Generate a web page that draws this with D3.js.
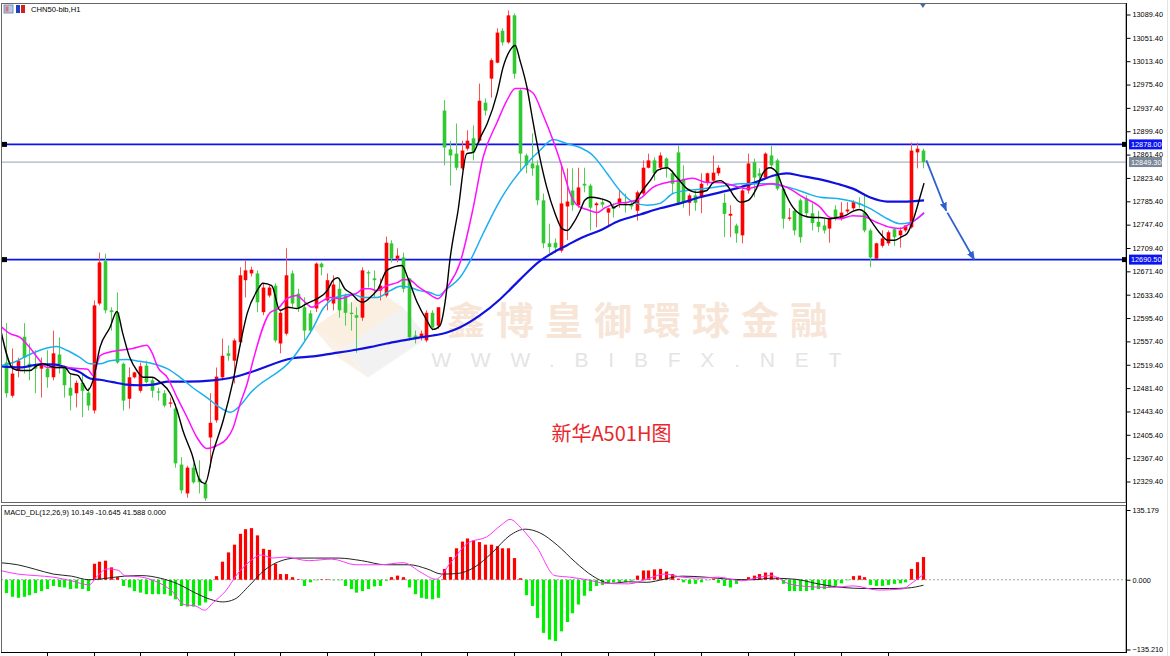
<!DOCTYPE html>
<html><head><meta charset="utf-8">
<script src="https://cdn.jsdelivr.net/npm/d3@7/dist/d3.min.js"></script>
<style>body{margin:0;background:#fff;overflow:hidden}svg{display:block}</style>
</head><body>
<svg id="c" width="1170" height="656"></svg>
<script>
// ---------- DATA ----------
const symbolLabel = "CHN50-bib,H1";
const macdLabel = "MACD_DL(12,26,9) 10.149 -10.645 41.588 0.000";
const opens = [
12523,12469,12510,12565,12521,12520,12513,12513,12499,12536,
12515,12482,12473,12490,12474,12445,12619,12688,12608,12605,
12521,12464,12499,12477,12518,12494,12476,12473,12456,12448,
12357,12310,12352,12334,12326,12401,12429,12499,12538,12526,
12556,12657,12668,12668,12605,12632,12648,12554,12570,12668,
12635,12613,12603,12611,12684,12624,12619,12643,12632,12604,
12600,12596,12670,12660,12640,12632,12717,12692,12694,12660,
12567,12564,12559,12604,12583,12933,12870,12863,12839,12871,
12888,12884,12946,12985,13011,13063,13044,13088,12966,12860,
12847,12844,12787,12717,12718,12705,12777,12803,12779,12814,
12811,12779,12784,12767,12777,12782,12782,12780,12770,12798,
12840,12852,12840,12855,12831,12865,12822,12783,12795,12792,
12816,12819,12831,12783,12762,12746,12730,12803,12849,12831,
12824,12860,12852,12806,12757,12770,12787,12790,12766,12752,
12746,12741,12772,12757,12769,12774,12782,12767,12738,12692,
12713,12717,12740,12730,12738,12743,12865,12868];
const highs = [
12587,12546,12531,12587,12554,12543,12531,12543,12575,12564,
12518,12505,12494,12505,12482,12624,12702,12700,12613,12637,
12523,12515,12508,12523,12526,12499,12482,12478,12466,12456,
12369,12355,12359,12364,12331,12473,12515,12562,12551,12562,
12678,12689,12679,12673,12652,12648,12652,12608,12709,12673,
12643,12629,12608,12686,12686,12668,12665,12661,12635,12621,
12613,12678,12673,12673,12660,12728,12722,12709,12702,12661,
12575,12575,12608,12608,12613,12950,12884,12912,12884,12901,
12909,12977,12953,13018,13067,13067,13096,13091,12969,12863,
12896,12852,12798,12749,12725,12847,12839,12839,12840,12840,
12814,12784,12790,12775,12782,12803,12798,12785,12803,12852,
12863,12857,12865,12857,12836,12876,12844,12798,12803,12831,
12832,12860,12844,12798,12779,12749,12806,12863,12855,12839,
12865,12876,12855,12808,12774,12774,12790,12795,12782,12770,
12757,12757,12779,12784,12784,12787,12792,12795,12741,12718,
12738,12738,12741,12743,12746,12881,12881,12871];
const lows = [
12466,12466,12499,12505,12494,12473,12466,12482,12494,12505,
12466,12445,12450,12434,12445,12440,12616,12603,12575,12521,
12445,12448,12497,12474,12489,12466,12461,12450,12450,12352,
12310,12303,12326,12310,12298,12352,12425,12494,12526,12489,
12550,12629,12663,12605,12600,12629,12556,12538,12567,12613,
12605,12559,12570,12605,12665,12608,12608,12596,12583,12575,
12539,12591,12645,12629,12624,12629,12686,12686,12637,12559,
12554,12559,12556,12575,12578,12844,12811,12836,12836,12868,
12852,12881,12925,12954,13010,13039,13042,12985,12836,12831,
12827,12779,12709,12701,12701,12702,12722,12770,12775,12800,
12738,12743,12775,12746,12759,12775,12767,12772,12754,12795,
12839,12819,12836,12824,12798,12779,12775,12762,12770,12766,
12811,12814,12827,12727,12727,12718,12717,12798,12792,12819,
12822,12840,12803,12741,12754,12730,12718,12759,12738,12735,
12733,12718,12754,12754,12766,12770,12775,12735,12678,12692,
12710,12713,12713,12710,12735,12741,12839,12839];
const closes = [
12473,12505,12526,12531,12515,12513,12520,12499,12538,12520,
12486,12469,12490,12477,12453,12616,12686,12608,12605,12523,
12461,12499,12507,12517,12491,12477,12474,12453,12458,12359,
12315,12352,12328,12328,12302,12425,12500,12534,12534,12559,
12665,12673,12674,12621,12645,12645,12559,12604,12665,12619,
12613,12575,12575,12684,12678,12657,12650,12608,12604,12602,
12596,12673,12668,12657,12648,12718,12692,12697,12643,12564,
12562,12570,12604,12580,12613,12873,12860,12840,12868,12884,
12865,12949,12933,13015,13060,13044,13088,12993,12863,12844,
12839,12787,12717,12711,12710,12782,12785,12779,12808,12811,
12775,12782,12780,12774,12773,12790,12779,12777,12800,12840,
12852,12831,12860,12839,12814,12782,12783,12795,12783,12814,
12831,12832,12840,12765,12765,12733,12803,12847,12824,12827,
12863,12844,12806,12757,12759,12738,12727,12766,12750,12744,
12738,12757,12757,12767,12772,12784,12780,12738,12694,12717,
12725,12735,12727,12738,12746,12868,12871,12849.3];

// moving averages: [bar index, value]
const ma5 = [[-1,12580],[1.2,12513],[2.4,12510],[4.1,12510],[5.3,12518],[6.3,12521],[8.4,12515],[10.1,12515],[11,12505],[12.3,12502],[13.2,12489],[14,12478],[14.9,12494],[16.1,12548],[17.8,12580],[19,12606],[20,12570],[21.2,12531],[22.4,12510],[23.5,12499],[25,12499],[26.4,12491],[28.1,12473],[29.3,12445],[30.3,12412],[31.8,12375],[33.2,12331],[34.1,12326],[35.4,12375],[37.2,12429],[38.9,12494],[40.6,12575],[41.3,12603],[43,12640],[44,12652],[45.5,12648],[46.9,12608],[48.3,12613],[49.8,12611],[51.5,12619],[53.3,12627],[55,12640],[56,12657],[56.8,12661],[58,12643],[59.2,12635],[60.3,12624],[61.1,12621],[62.7,12632],[63.7,12643],[65.2,12673],[66.6,12679],[67.8,12681],[68.8,12661],[70.4,12621],[72.1,12591],[73.1,12577],[74.3,12583],[75.3,12629],[76,12689],[77.4,12770],[78.9,12863],[80,12865],[81.2,12889],[82.4,12912],[84.1,12961],[85.1,13003],[86.3,13031],[87.2,13039],[88,13015],[89.2,12971],[90.2,12917],[91.4,12857],[92.6,12808],[94,12766],[95.2,12741],[96.1,12738],[97.1,12749],[98.3,12770],[99.1,12787],[100,12792],[101.7,12790],[103.4,12784],[104,12775],[105.1,12780],[106.8,12780],[107.7,12784],[108.6,12798],[110.3,12819],[111.6,12836],[113.2,12840],[114.9,12824],[116.6,12806],[118.3,12800],[120,12803],[121.1,12816],[122.3,12819],[123.5,12811],[124.8,12792],[125.7,12784],[127.1,12787],[128.6,12808],[129.6,12831],[130.8,12840],[132,12832],[133,12808],[134.8,12775],[136.5,12762],[138.2,12759],[139.4,12759],[141.1,12757],[142.3,12759],[143.7,12762],[145,12769],[146.1,12772],[147.1,12767],[148.3,12751],[149.7,12733],[151,12722],[152.2,12722],[153.4,12728],[154.3,12733],[155.3,12754],[156.5,12792],[157.2,12815]];
const ma10 = [[-1,12583],[0.7,12570],[2.4,12564],[4.1,12547],[5.8,12526],[7,12515],[8.4,12515],[10.1,12515],[12.7,12513],[14,12512],[14.9,12502],[16.1,12534],[17.3,12539],[19.5,12543],[21.7,12546],[24.1,12551],[25,12539],[26,12515],[27.6,12499],[29.3,12466],[31,12434],[32.7,12401],[34.4,12383],[36.1,12388],[37.8,12399],[38.9,12417],[40.1,12456],[41.3,12489],[42.3,12526],[45.2,12604],[46.6,12611],[48.1,12627],[49.8,12632],[50.9,12624],[52.4,12613],[53.8,12621],[55.5,12629],[57.2,12627],[58.9,12632],[60.3,12637],[61.1,12643],[62.3,12643],[63.5,12640],[65.2,12648],[67,12653],[68,12658],[69.2,12657],[70.5,12647],[72.1,12637],[74,12627],[75.5,12645],[77.7,12684],[80,12775],[81.7,12857],[84.1,12914],[85.8,12950],[87.2,12969],[88.5,12969],[90.2,12962],[92,12925],[93.7,12884],[95.4,12836],[96.6,12798],[97.8,12779],[99.5,12772],[101.2,12767],[102.6,12775],[104.6,12782],[106.5,12784],[108.6,12790],[110.8,12808],[113.2,12816],[115.4,12819],[117.6,12823],[120,12816],[122.3,12816],[124.5,12811],[126.9,12806],[129.1,12811],[131.3,12814],[133.7,12808],[136.5,12792],[139.4,12776],[141.1,12759],[142.8,12757],[145,12762],[146.7,12761],[149.1,12751],[151.4,12743],[153.1,12741],[154.8,12749],[156,12757],[157.2,12767]];
const ma20 = [[-1,12518],[1.2,12523],[3.6,12534],[5.8,12543],[8.7,12549],[10.4,12543],[12.7,12531],[14.4,12521],[16.1,12521],[17.8,12526],[20.7,12528],[22.9,12525],[25.2,12521],[27.6,12513],[29.8,12499],[32,12482],[34.4,12466],[36.6,12450],[38.4,12442],[40.1,12453],[41.8,12473],[49.1,12530],[50.9,12554],[52.6,12580],[54.3,12611],[56,12627],[57.7,12632],[59.4,12634],[61.1,12629],[63.5,12629],[65.8,12640],[67.5,12647],[69.2,12645],[70.9,12640],[72.6,12637],[74,12632],[75.5,12643],[77.7,12661],[79.5,12689],[81.7,12733],[84.6,12787],[86.8,12819],[89.2,12847],[91.4,12868],[93.7,12886],[96.1,12879],[98.3,12873],[100.5,12860],[102.9,12831],[105.1,12803],[107.4,12784],[109.8,12779],[112,12782],[114.2,12798],[116.6,12803],[118.8,12805],[121.1,12808],[123.5,12811],[125.7,12814],[127.9,12814],[130.3,12814],[132.5,12811],[134.8,12806],[137.2,12798],[139.4,12792],[142.3,12790],[145,12785],[147.9,12774],[150.9,12757],[153.1,12749],[154.8,12751],[156,12757],[157.2,12766]];
const ma60 = [[-1,12517],[2.4,12515],[5.8,12520],[8,12520],[10.4,12515],[12.7,12507],[14.4,12497],[16.1,12495],[18.3,12491],[20.7,12487],[22.9,12486],[25.2,12487],[27.6,12492],[31,12492],[35.4,12494],[38.9,12499],[41.8,12507],[49.1,12530],[52.6,12533],[56,12538],[59.4,12543],[62.3,12548],[65.2,12554],[68,12559],[70.9,12564],[73.1,12567],[75.5,12572],[77.7,12580],[81.2,12600],[84.6,12626],[88,12658],[91.4,12688],[93.7,12702],[96.1,12714],[98.3,12725],[101.7,12738],[105.1,12754],[108.6,12764],[112,12774],[115.4,12782],[118.8,12792],[122.3,12800],[125.7,12808],[129.1,12819],[131.3,12827],[133.7,12831],[136,12827],[139.4,12821],[142.3,12814],[145,12806],[147.9,12792],[150.9,12785],[153.6,12785],[157.2,12787]];

// MACD
const macdHist = [
-26,-33,-35,-33,-30,-26,-22,-18,-12,-14,
-15,-18,-17,-18,-22,31,35,37,24,5,
-12,-15,-22,-25,-28,-28,-28,-28,-31,-38,
-51,-52,-52,-50,-44,-22,7,35,53,68,
89,98,100,86,60,58,31,11,11,5,
1,-12,-5,-1,1,1,-1,-1,-12,-18,
-25,-22,-18,-13,-12,-2,5,8,5,-15,
-28,-35,-37,-38,-35,21,44,61,74,80,
76,73,68,68,65,61,61,42,3,-30,
-51,-74,-103,-116,-119,-100,-82,-65,-48,-31,
-22,-12,-10,-7,-5,-5,-4,-2,8,18,
18,20,21,16,11,2,-5,-8,-8,-5,
-1,2,-6,-12,-15,-8,-1,5,8,11,
14,14,5,-8,-22,-22,-22,-22,-20,-18,
-18,-15,-12,-7,-1,7,8,5,-10,-12,
-12,-10,-8,-7,-5,21,34,44];
const macdDea = [[-1,33],[2,29],[5.1,20],[8.1,11],[11.2,7],[14.2,0],[17.3,3],[20.3,7],[23.3,8],[26.4,3],[29.4,-8],[32.5,-26],[35,-38],[37.1,-43],[39.1,-38],[41.6,-12],[44.2,18],[46.7,35],[49.8,42],[52.8,42],[56.9,42],[60.9,37],[65,29],[69.1,29],[72.1,21],[74.6,11],[77.2,12],[80.2,24],[83.3,53],[86.3,86],[88.9,98],[91.4,91],[94.4,67],[97.5,34],[100.5,7],[103.6,-7],[106.6,-4],[109.7,-5],[112.7,1],[115.8,7],[119.8,5],[123.9,1],[128,0],[131,3],[135.1,1],[139.1,-8],[143.2,-15],[147.3,-17],[151.3,-17],[154.4,-16],[157.1,-10.6]];
const macdDif = [[-1,18],[2,11],[5.1,8],[8.1,5],[11.2,-2],[14.2,-10],[15.7,8],[17.3,21],[19.3,18],[20.3,8],[23.3,5],[25.4,-2],[28.4,-22],[30.5,-48],[32.5,-51],[34,-59],[35.5,-44],[37.6,-22],[39.6,11],[41.6,34],[43.7,48],[45.7,42],[47.7,44],[51.8,37],[55.8,40],[59.9,29],[64,29],[68,33],[71.1,14],[73.6,1],[76.2,34],[79.2,72],[82.3,83],[84.8,106],[86.3,117],[88.3,99],[90.9,63],[94,8],[96.5,5],[99.5,0],[102.6,-7],[106.6,-8],[109.7,1],[112.7,11],[115.8,5],[118.8,3],[121.9,5],[126,-2],[129,5],[131,8],[134.1,-8],[137.1,-13],[141.2,-15],[145.2,-12],[149.3,-20],[153.4,-18],[155.4,-4],[157.1,10.1]];

const priceTicks = [13089.4,13051.4,13013.4,12975.4,12937.4,12899.4,12861.4,12823.4,12785.4,12747.4,12709.4,12671.4,12633.4,12595.4,12557.4,12519.4,12481.4,12443.4,12405.4,12367.4,12329.4];
const macdTicks = [135.179, 0, -135.210];
const timeTickBars = [7,15,23,31,39,47,55,63,71,79,87,95,103,111,119,127,135,143,151];
const levels = [12878.00, 12690.50];
const lastPrice = 12849.30;
const arrows = [[157.6,12852,161.0,12770],[161.2,12767,165.8,12690.5]];
const chartTitle = "新华A501H图";
const wmText = "鑫博皇御環球金融";
const wmUrl = "WWW.BIBFX.NET";

// ---------- LAYOUT ----------
const svg = d3.select("#c");
const axisX = 1126;
const mainTop = 3, mainBot = 502, macdTop = 505, macdBot = 652;
const x = d3.scaleLinear().domain([0,157]).range([6, 6+157*5.84]);
const y = d3.scaleLinear().domain([12329.4,13089.4]).range([481.5,14.5]);
const ym = d3.scaleLinear().domain([-135.21,135.179]).range([649.5,510]);
const FONT = "'Liberation Sans', Arial, sans-serif";
const FS = 7.3;

const defs = svg.append("defs");
defs.append("clipPath").attr("id","cm").append("rect").attr("x",1).attr("y",mainTop).attr("width",axisX-1).attr("height",mainBot-mainTop);
defs.append("clipPath").attr("id","cd").append("rect").attr("x",1).attr("y",macdTop).attr("width",axisX-1).attr("height",macdBot-macdTop);
defs.append("marker").attr("id","ah").attr("viewBox","0 0 10 10").attr("refX",9).attr("refY",5)
  .attr("markerWidth",5).attr("markerHeight",5).attr("orient","auto-start-reverse").attr("markerUnits","strokeWidth")
  .append("path").attr("d","M0,1 L10,5 L0,9 Z").attr("fill","#2f5fd0");

// ---------- WATERMARK ----------
const wm = svg.append("g").attr("clip-path","url(#cm)");
const lx = x(56), ly = y(12580);
wm.append("path").attr("d",`M${lx-20},${ly} L${lx+40},${ly-40} L${lx+70},${ly-20} L${lx+10},${ly+20} Z`).attr("fill","#f7dfc6").attr("opacity",0.5);
wm.append("path").attr("d",`M${lx+10},${ly+20} L${lx+70},${ly-20} L${lx+95},${ly+10} L${lx+35},${ly+50} Z`).attr("fill","#e8e8e8").attr("opacity",0.55);
wm.append("path").attr("d",`M${lx-20},${ly} L${lx+10},${ly+20} L${lx+35},${ly+50} L${lx+5},${ly+30} Z`).attr("fill","#f3e4d0").attr("opacity",0.5);
wm.append("text").attr("x",x(75.5)).attr("y",y(12570)).attr("font-family","'Noto Sans CJK TC','Noto Sans CJK SC',sans-serif")
  .attr("font-size",38).attr("font-weight",700).attr("letter-spacing",11).attr("fill","#f7e6d8").text(wmText);
wm.append("text").attr("x",x(72.8)).attr("y",y(12516)).attr("font-family",FONT)
  .attr("font-size",21).attr("letter-spacing",19.8).attr("fill","#e4e4e4").text(wmUrl);

// ---------- MAIN PANEL ----------
const gm = svg.append("g").attr("clip-path","url(#cm)");
gm.append("line").attr("x1",1).attr("x2",axisX).attr("y1",y(lastPrice)).attr("y2",y(lastPrice)).attr("stroke","#a9b4c0").attr("stroke-width",1.2);
levels.forEach(v=>{
  gm.append("line").attr("x1",1).attr("x2",axisX).attr("y1",y(v)).attr("y2",y(v)).attr("stroke","#0a14f0").attr("stroke-width",1.6);
  gm.append("rect").attr("x",2).attr("y",y(v)-2.5).attr("width",5).attr("height",5).attr("fill","#000");
});

const bars = d3.range(opens.length).map(i=>({i,o:opens[i],h:highs[i],l:lows[i],c:closes[i]}));
const up = d=>d.c>=d.o;
gm.selectAll("line.wick").data(bars).join("line").attr("class","wick")
  .attr("x1",d=>Math.round(x(d.i))+0.5).attr("x2",d=>Math.round(x(d.i))+0.5)
  .attr("y1",d=>y(d.h)).attr("y2",d=>y(d.l))
  .attr("stroke",d=>up(d)?"#ff5050":"#50d050").attr("stroke-width",1);
gm.selectAll("rect.body").data(bars).join("rect").attr("class","body")
  .attr("x",d=>Math.round(x(d.i))+0.5-1.8).attr("width",3.6)
  .attr("y",d=>y(Math.max(d.o,d.c)))
  .attr("height",d=>Math.max(1.2,Math.abs(y(d.o)-y(d.c))))
  .attr("fill",d=>up(d)?"#ff0000":"#32c832");

const lineMA = d3.line().x(d=>x(d[0])).y(d=>y(d[1])).curve(d3.curveMonotoneX);
const maStyles = [[ma60,"#1010e0",2.2],[ma20,"#1ab0f0",1.5],[ma10,"#ff10ff",1.5],[ma5,"#000000",1.4]];
maStyles.forEach(([d,c,w])=>gm.append("path").datum(d).attr("d",lineMA).attr("fill","none").attr("stroke",c).attr("stroke-width",w));

gm.selectAll("line.arr").data(arrows).join("line").attr("class","arr")
  .attr("x1",d=>x(d[0])).attr("y1",d=>y(d[1])).attr("x2",d=>x(d[2])).attr("y2",d=>y(d[3]))
  .attr("stroke","#2f5fd0").attr("stroke-width",1.8).attr("marker-end","url(#ah)");

svg.append("text").attr("x",x(93.4)).attr("y",y(12395)).attr("font-family","'Noto Sans CJK SC',sans-serif")
  .attr("font-size",20).attr("fill","#e8262c").text(chartTitle);

// ---------- MACD PANEL ----------
const gd = svg.append("g").attr("clip-path","url(#cd)");
gd.append("line").attr("x1",1).attr("x2",axisX).attr("y1",ym(0)).attr("y2",ym(0)).attr("stroke","#a0a0a0").attr("stroke-dasharray","2,2");
gd.selectAll("rect.h").data(macdHist.map((v,i)=>({i,v}))).join("rect").attr("class","h")
  .attr("x",d=>Math.round(x(d.i))+0.5-1.6).attr("width",3.2)
  .attr("y",d=>Math.min(ym(0),ym(d.v))).attr("height",d=>Math.abs(ym(d.v)-ym(0)))
  .attr("fill",d=>d.v>=0?"#ff0000":"#00ee00");
const lineM = d3.line().x(d=>x(d[0])).y(d=>ym(d[1])).curve(d3.curveMonotoneX);
gd.append("path").datum(macdDea).attr("d",lineM).attr("fill","none").attr("stroke","#222").attr("stroke-width",1);
gd.append("path").datum(macdDif).attr("d",lineM).attr("fill","none").attr("stroke","#ff33ff").attr("stroke-width",1);

// ---------- FRAMES & AXES ----------
svg.append("rect").attr("x",1.5).attr("y",mainTop+0.5).attr("width",axisX-1.5).attr("height",mainBot-mainTop).attr("fill","none").attr("stroke","#666");
svg.append("rect").attr("x",1.5).attr("y",macdTop+0.5).attr("width",axisX-1.5).attr("height",macdBot-macdTop).attr("fill","none").attr("stroke","#666");
svg.append("line").attr("x1",1).attr("x2",axisX).attr("y1",macdBot+0.5).attr("y2",macdBot+0.5).attr("stroke","#000");
svg.append("line").attr("x1",axisX+0.5).attr("x2",axisX+0.5).attr("y1",mainTop).attr("y2",macdBot+1).attr("stroke","#000");

const ax = svg.append("g").attr("transform",`translate(${axisX+0.5},0)`)
  .call(d3.axisRight(y).tickValues(priceTicks).tickSize(4).tickPadding(2).tickFormat(d3.format(".2f")));
ax.select(".domain").remove();
ax.selectAll("text").attr("font-family",FONT).attr("font-size",FS).attr("fill","#000");
ax.selectAll("line").attr("stroke","#000");

const axm = svg.append("g").attr("transform",`translate(${axisX+0.5},0)`)
  .call(d3.axisRight(ym).tickValues(macdTicks).tickSize(4).tickPadding(2).tickFormat(d3.format(".3f")));
axm.select(".domain").remove();
axm.selectAll("text").attr("font-family",FONT).attr("font-size",FS).attr("fill","#000");

svg.append("g").selectAll("line").data(timeTickBars).join("line")
  .attr("x1",d=>Math.round(x(d))+0.5).attr("x2",d=>Math.round(x(d))+0.5).attr("y1",macdBot).attr("y2",macdBot+4).attr("stroke","#000");

const lab = (v,bg)=>{
  const g = svg.append("g");
  g.append("rect").attr("x",axisX+3).attr("y",y(v)-5).attr("width",33).attr("height",10).attr("fill",bg);
  g.append("text").attr("x",axisX+5).attr("y",y(v)+2.7).attr("font-family",FONT).attr("font-size",FS).attr("fill","#fff").text(d3.format(".2f")(v));
};
levels.forEach(v=>{
  lab(v,"#0a14f0");
  svg.append("rect").attr("x",axisX-4).attr("y",y(v)-2.5).attr("width",5).attr("height",5).attr("fill","#000");
});
lab(lastPrice,"#7a8898");

svg.append("path").attr("d",`M${x(157)-3},${mainTop+0.5} L${x(157)+3},${mainTop+0.5} L${x(157)},${mainTop+5} Z`).attr("fill","#4a6a9a");

svg.append("rect").attr("x",4).attr("y",5).attr("width",9).attr("height",8).attr("fill","#b8c8e8").attr("stroke","#6a7aa8").attr("stroke-width",0.8);
svg.append("rect").attr("x",5.5).attr("y",6.5).attr("width",3).attr("height",5).attr("fill","#e07070");
svg.append("rect").attr("x",16).attr("y",5).attr("width",4).attr("height",8).attr("fill","#2040c0");
svg.append("rect").attr("x",21).attr("y",5).attr("width",4).attr("height",8).attr("fill","#d02020");
svg.append("text").attr("x",31).attr("y",11.5).attr("font-family",FONT).attr("font-size",7.6).attr("fill","#000").text(symbolLabel);
svg.append("text").attr("x",4).attr("y",515).attr("font-family",FONT).attr("font-size",7.4).attr("fill","#000").text(macdLabel);
svg.append("line").attr("x1",1167.5).attr("x2",1167.5).attr("y1",0).attr("y2",656).attr("stroke","#e4e4e4");
</script>
</body></html>
